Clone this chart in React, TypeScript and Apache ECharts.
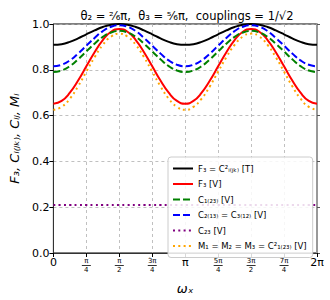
import React, { useEffect, useRef } from "react";
import * as echarts from "echarts";

const PI = Math.PI;
const xTickLabels = ["0", "π/4", "π/2", "3π/4", "π", "5π/4", "3π/2", "7π/4", "2π"];
const yTickLabels = ["0.0", "0.2", "0.4", "0.6", "0.8", "1.0"];

// sample points every π/16 from 0 to 2π
const f3T = [0.909, 0.912, 0.922, 0.937, 0.955, 0.972, 0.987, 0.997, 1.0, 0.997, 0.987, 0.972, 0.955, 0.937, 0.922, 0.912, 0.909,
  0.912, 0.922, 0.937, 0.955, 0.972, 0.987, 0.997, 1.0, 0.997, 0.987, 0.972, 0.955, 0.937, 0.922, 0.912, 0.909];
const f3V = [0.652, 0.664, 0.700, 0.753, 0.815, 0.877, 0.930, 0.966, 0.978, 0.966, 0.930, 0.877, 0.815, 0.753, 0.700, 0.664, 0.652,
  0.664, 0.700, 0.753, 0.815, 0.877, 0.930, 0.966, 0.978, 0.966, 0.930, 0.877, 0.815, 0.753, 0.700, 0.664, 0.652];
const c123 = [0.790, 0.797, 0.816, 0.846, 0.880, 0.914, 0.944, 0.963, 0.970, 0.963, 0.944, 0.914, 0.880, 0.846, 0.816, 0.797, 0.790,
  0.797, 0.816, 0.846, 0.880, 0.914, 0.944, 0.963, 0.970, 0.963, 0.944, 0.914, 0.880, 0.846, 0.816, 0.797, 0.790];
const c213 = [0.815, 0.822, 0.841, 0.871, 0.905, 0.939, 0.969, 0.988, 0.995, 0.988, 0.969, 0.939, 0.905, 0.871, 0.841, 0.822, 0.815,
  0.822, 0.841, 0.871, 0.905, 0.939, 0.969, 0.988, 0.995, 0.988, 0.969, 0.939, 0.905, 0.871, 0.841, 0.822, 0.815];
const c23 = [0.21, 0.21, 0.21, 0.21, 0.21, 0.21, 0.21, 0.21, 0.21, 0.21, 0.21, 0.21, 0.21, 0.21, 0.21, 0.21, 0.21,
  0.21, 0.21, 0.21, 0.21, 0.21, 0.21, 0.21, 0.21, 0.21, 0.21, 0.21, 0.21, 0.21, 0.21, 0.21, 0.21];
const mV = [0.625, 0.638, 0.674, 0.728, 0.792, 0.855, 0.909, 0.945, 0.958, 0.945, 0.909, 0.855, 0.792, 0.728, 0.674, 0.638, 0.625,
  0.638, 0.674, 0.728, 0.792, 0.855, 0.909, 0.945, 0.958, 0.945, 0.909, 0.855, 0.792, 0.728, 0.674, 0.638, 0.625];

const seriesNames = [
  "F₃ = C²ᵢ₍ⱼₖ₎ [T]",
  "F₃ [V]",
  "C₁₍₂₃₎ [V]",
  "C₂₍₁₃₎ = C₃₍₁₂₎ [V]",
  "C₂₃ [V]",
  "M₁ = M₂ = M₃ = C²₁₍₂₃₎ [V]",
];

const FONT = "DejaVu Sans";

function pairs(vals: number[]) {
  return vals.map((v, i) => [(i * PI) / 16, v]);
}

export default function App() {
  const ref = useRef<HTMLDivElement>(null);
  useEffect(() => {
    document.body.style.margin = "0";
    if (!ref.current) return;
    const chart = echarts.init(ref.current, null, { renderer: "svg" });
    const mk = (name: string, data: number[], color: string, type: any) => ({
      name,
      type: "line",
      data: pairs(data),
      symbol: "none",
      smooth: true,
      lineStyle: { color, width: 2, type },
      itemStyle: { color },
    });
    chart.setOption({
      animation: false,
      textStyle: { fontFamily: FONT },
      title: {
        text: "θ₂ = ²⁄₆π,  θ₃ = ⁵⁄₆π,  couplings = 1/√2",
        left: 182,
        top: 5,
        textAlign: "center",
        textStyle: { fontFamily: FONT, fontSize: 11.5, fontWeight: "normal", color: "#000" },
      },
      grid: {
        left: 47,
        right: 13,
        top: 24,
        bottom: 45,
        show: true,
        borderColor: "#000",
        borderWidth: 1,
        backgroundColor: "transparent",
      },
      legend: {
        orient: "vertical",
        left: 168,
        top: 157,
        itemWidth: 20,
        itemHeight: 8,
        itemGap: 6.5,
        padding: [7, 6, 7, 4],
        backgroundColor: "rgba(255,255,255,0.85)",
        borderColor: "#cccccc",
        borderWidth: 1,
        borderRadius: 3,
        itemStyle: { opacity: 0 },
        textStyle: { fontFamily: FONT, fontSize: 8.5, color: "#000" },
        data: seriesNames,
      },
      xAxis: {
        type: "value",
        min: 0,
        max: 2 * PI,
        interval: PI / 4,
        name: "ωₓ",
        nameLocation: "middle",
        nameGap: 29,
        nameTextStyle: { fontFamily: FONT, fontSize: 13, fontStyle: "italic", color: "#000" },
        axisLine: { show: true, lineStyle: { color: "#333" } },
        axisTick: { show: true, length: 4, lineStyle: { color: "#000" } },
        splitLine: { show: true, lineStyle: { color: "#b0b0b0", type: [3, 3], width: 0.8 } },
        axisLabel: {
          color: "#000",
          fontSize: 11,
          margin: 4,
          formatter: (v: number) => {
            const idx = Math.round(v / (PI / 4));
            const s = xTickLabels[idx] ?? "";
            if (s.includes("/")) {
              const [n, d] = s.split("/");
              return `{n|${n}}\n{b| }\n{d|${d}}`;
            }
            return s;
          },
          rich: {
            n: { fontSize: 7, lineHeight: 8, align: "center", color: "#000" },
            b: { fontSize: 1, lineHeight: 1, height: 0.8, width: 9, align: "center", backgroundColor: "#000" },
            d: { fontSize: 7, lineHeight: 8, align: "center", color: "#000" },
          },
        },
      },
      yAxis: [
        {
          type: "value",
          min: 0,
          max: 1,
          interval: 0.2,
          name: "F₃, Cᵢ₍ⱼₖ₎, Cᵢⱼ, Mᵢ",
          nameLocation: "middle",
          nameGap: 31,
          nameTextStyle: { fontFamily: FONT, fontSize: 13, fontStyle: "italic", color: "#000" },
          axisLine: { show: true, lineStyle: { color: "#333" } },
          axisTick: { show: true, length: 4, lineStyle: { color: "#000" } },
          splitLine: { show: true, lineStyle: { color: "#b0b0b0", type: [3, 3], width: 0.8 } },
          axisLabel: {
            color: "#000",
            fontSize: 11,
            margin: 4,
            formatter: (v: number) => yTickLabels[Math.round(v / 0.2)] ?? "",
          },
        },
        {
          type: "value",
          position: "right",
          min: 0,
          max: 1,
          interval: 0.2,
          axisLine: { show: true, lineStyle: { color: "#999", width: 2 } },
          axisTick: { show: true, length: 3, lineStyle: { color: "#555" } },
          splitLine: { show: false },
          axisLabel: { show: false },
        },
      ],
      series: [
        mk(seriesNames[0], f3T, "#000000", "solid"),
        mk(seriesNames[1], f3V, "#ff0000", "solid"),
        mk(seriesNames[2], c123, "#008000", [7, 3]),
        mk(seriesNames[3], c213, "#0000ff", [7, 3]),
        mk(seriesNames[4], c23, "#800080", [2, 3.3]),
        mk(seriesNames[5], mV, "#ffa500", [2, 3.3]),
      ],
    });
    return () => chart.dispose();
  }, []);
  return <div ref={ref} style={{ width: 330, height: 300 }} />;
}
